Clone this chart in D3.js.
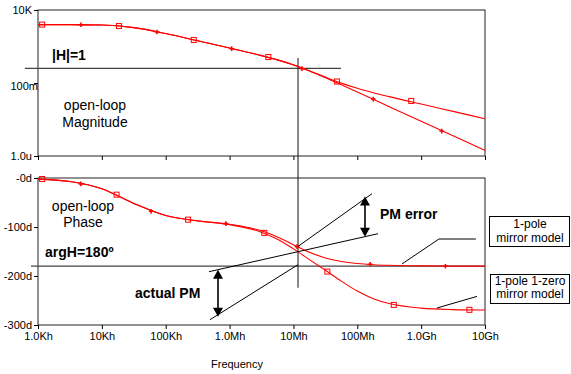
<!DOCTYPE html>
<html>
<head>
<meta charset="utf-8">
<script src="https://cdn.jsdelivr.net/npm/d3@7"></script>
<style>
  body { margin: 0; background: #fff; }
  svg { display: block; font-family: "Liberation Sans", Arial, sans-serif; }
</style>
</head>
<body>
<svg width="571" height="374"></svg>
<script>
// frequency grid (Hz)
var freqs = [1e3, 3.16e3, 1e4, 3.16e4, 1e5, 3.16e5, 1e6, 3.16e6, 5.62e6, 1e7,
             1.78e7, 3.16e7, 5.62e7, 1e8, 1.78e8, 3.16e8, 1e9, 3.16e9, 1e10];

// open-loop magnitude |H|
var magOnePole  = [1000, 993, 929, 617, 243, 78.9, 24.9, 7.52, 3.84, 1.73,
                   0.667, 0.2296, 0.0748, 0.0239, 0.00757, 0.0024, 0.00024, 2.4e-5, 2.4e-6];
var magPoleZero = [1000, 993, 929, 617, 243, 78.9, 24.9, 7.52, 3.85, 1.75,
                   0.690, 0.254, 0.098, 0.0431, 0.0216, 0.0116, 0.00361, 0.00114, 0.00036];

// open-loop phase (deg)
var phaseOnePole  = [-2.3, -7.2, -21.9, -51.9, -76.6, -87.4, -94.5, -107.8, -120.2, -136.1,
                     -151.6, -163.1, -170.3, -174.5, -176.9, -178.2, -179.4, -179.8, -179.9];
var phasePoleZero = [-2.3, -7.2, -21.9, -51.9, -76.6, -87.6, -95.4, -110.5, -125.0, -144.6,
                     -166.5, -188.4, -210.4, -230.8, -246.3, -256.3, -265.6, -268.6, -269.5];

// trace markers [freq, value]
var magMarksPlus   = [[4.7e3, 977], [7.3e4, 309], [1.08e6, 22.4], [1.36e7, 0.955], [1.78e8, 0.0079], [2.1e9, 5.1e-5]];
var magMarksSquare = [[1.16e3, 1000], [1.85e4, 794], [2.75e5, 89], [4.05e6, 6.0], [4.8e7, 0.126], [7e8, 0.0059]];
var phMarksPlus    = [[4.7e3, -12], [5.9e4, -68], [8.76e5, -93], [1.14e7, -140], [1.59e8, -176], [2.4e9, -180]];
var phMarksSquare  = [[1.16e3, -2], [1.7e4, -34], [2.24e5, -85], [3.5e6, -112], [3.4e7, -191], [3.73e8, -259], [5.7e9, -269]];

// axes
var freqTicks = [1e3, 1e4, 1e5, 1e6, 1e7, 1e8, 1e9, 1e10];
var freqLabels = ["1.0Kh", "10Kh", "100Kh", "1.0Mh", "10Mh", "100Mh", "1.0Gh", "10Gh"];
var magTicks = [1e4, 1e-1, 1e-6];
var magLabels = ["10K", "100m", "1.0u"];
var phTicks = [0, -100, -200, -300];
var phLabels = ["-0d", "-100d", "-200d", "-300d"];

// annotations (freq, value)
var fCross = 1.18e7;
var unityLine = [[625, 1], [5.56e7, 1]];
var argLine = [[776, -180], [1e10, -180]];
var tangentA = [[4.76e5, -191.2], [2.11e8, -113.7]];
var tangentB = [[4.93e5, -289.2], [fCross, -176.9]];
var tangentC = [[fCross, -139.6], [1.7e8, -32.0]];
var arrowPM = [6.59e5, -187, -283];
var arrowErr = [1.32e8, -38, -120];
var pointer1 = [[5.01e8, -175.5], [1.9e9, -124.5], [7.2e9, -124.5]];
var pointer2 = [[1.77e9, -265.3], [7.5e9, -241.6]];

var svg = d3.select("svg");

var x = d3.scaleLog().domain([1e3, 1e10]).range([38, 485]);
var yMag = d3.scaleLog().domain([1e-6, 1e4]).range([156, 10]);
var yPh = d3.scaleLinear().domain([-300, 0]).range([325, 178]);

var red = "#ff0000";

function frame(y) {
  var r = y.range();
  svg.append("rect")
    .attr("x", x.range()[0]).attr("y", r[1])
    .attr("width", x.range()[1] - x.range()[0])
    .attr("height", r[0] - r[1])
    .attr("fill", "none").attr("stroke", "#222").attr("stroke-width", 1);
}
frame(yMag);
frame(yPh);

// x axes
function xAxis(y, labels) {
  var g = svg.append("g")
    .attr("transform", "translate(0," + y.range()[0] + ")")
    .call(d3.axisBottom(x).tickValues(freqTicks).tickSize(4).tickPadding(3)
      .tickFormat(function(d, i) { return labels ? freqLabels[i] : ""; }));
  g.select(".domain").remove();
  g.selectAll("text").attr("font-size", 11).attr("font-family", null).attr("fill", "#000");
  return g;
}
xAxis(yMag, false);
xAxis(yPh, true);

// y axes
var gm = svg.append("g")
  .attr("transform", "translate(38,0)")
  .call(d3.axisLeft(yMag).tickValues(magTicks).tickSize(4).tickPadding(2)
    .tickFormat(function(d, i) { return magLabels[i]; }));
gm.select(".domain").remove();
gm.selectAll("text").attr("font-size", 11).attr("font-family", null);
gm.selectAll(".tick text").filter(function(d) { return d === 0.1; })
  .attr("x", 0).attr("dy", "0.6em");

var gp = svg.append("g")
  .attr("transform", "translate(38,0)")
  .call(d3.axisLeft(yPh).tickValues(phTicks).tickSize(4).tickPadding(2)
    .tickFormat(function(d, i) { return phLabels[i]; }));
gp.select(".domain").remove();
gp.selectAll("text").attr("font-size", 11).attr("font-family", null);

// reference lines
svg.append("line")
  .attr("x1", x(unityLine[0][0])).attr("x2", x(unityLine[1][0]))
  .attr("y1", yMag(1)).attr("y2", yMag(1))
  .attr("stroke", "#444").attr("stroke-width", 1.3);
svg.append("line")
  .attr("x1", x(argLine[0][0])).attr("x2", x(argLine[1][0]))
  .attr("y1", yPh(-180)).attr("y2", yPh(-180))
  .attr("stroke", "#444").attr("stroke-width", 1.3);
svg.append("line")
  .attr("x1", x(fCross)).attr("x2", x(fCross))
  .attr("y1", yMag(5.2)).attr("y2", yPh(-224))
  .attr("stroke", "#111").attr("stroke-width", 1);

// traces
function trace(y, vals) {
  var line = d3.line()
    .x(function(d) { return x(d[0]); })
    .y(function(d) { return y(d[1]); })
    .curve(d3.curveMonotoneX);
  svg.append("path")
    .datum(freqs.map(function(f, i) { return [f, vals[i]]; }))
    .attr("d", line)
    .attr("fill", "none").attr("stroke", red).attr("stroke-width", 1.1);
}
trace(yMag, magOnePole);
trace(yMag, magPoleZero);
trace(yPh, phaseOnePole);
trace(yPh, phasePoleZero);

function squares(y, data) {
  svg.append("g").selectAll("rect").data(data).enter().append("rect")
    .attr("x", function(d) { return x(d[0]) - 2.5; })
    .attr("y", function(d) { return y(d[1]) - 2.5; })
    .attr("width", 5).attr("height", 5)
    .attr("fill", "none").attr("stroke", red).attr("stroke-width", 1);
}
function pluses(y, data) {
  svg.append("g").selectAll("path").data(data).enter().append("path")
    .attr("transform", function(d) { return "translate(" + x(d[0]) + "," + y(d[1]) + ")"; })
    .attr("d", d3.symbol().type(d3.symbolCross).size(12))
    .attr("fill", red);
}
squares(yMag, magMarksSquare);
pluses(yMag, magMarksPlus);
squares(yPh, phMarksSquare);
pluses(yPh, phMarksPlus);

// tangent / pointer lines
var segLine = d3.line()
  .x(function(d) { return x(d[0]); })
  .y(function(d) { return yPh(d[1]); });
[tangentA, tangentB, tangentC, pointer1, pointer2].forEach(function(seg) {
  svg.append("path").attr("d", segLine(seg))
    .attr("fill", "none").attr("stroke", "#000").attr("stroke-width", 1);
});

// double arrows
function dblArrow(a) {
  var ax = x(a[0]), y1 = yPh(a[1]), y2 = yPh(a[2]);
  svg.append("line").attr("x1", ax).attr("x2", ax)
    .attr("y1", y1 + 6).attr("y2", y2 - 6)
    .attr("stroke", "#000").attr("stroke-width", 1.6);
  svg.append("path")
    .attr("d", "M" + ax + "," + y1 + "L" + (ax - 5) + "," + (y1 + 9) + "L" + (ax + 5) + "," + (y1 + 9) + "Z")
    .attr("fill", "#000");
  svg.append("path")
    .attr("d", "M" + ax + "," + y2 + "L" + (ax - 5) + "," + (y2 - 9) + "L" + (ax + 5) + "," + (y2 - 9) + "Z")
    .attr("fill", "#000");
}
dblArrow(arrowPM);
dblArrow(arrowErr);

// texts
function txt(s, tx, ty, opts) {
  opts = opts || {};
  svg.append("text")
    .attr("x", tx).attr("y", ty)
    .attr("font-size", opts.size || 14)
    .attr("font-weight", opts.bold ? "bold" : null)
    .attr("text-anchor", opts.anchor || "start")
    .attr("fill", "#000")
    .text(s);
}
txt("|H|=1", 52, 60, {bold: true});
txt("open-loop", 95, 110, {anchor: "middle"});
txt("Magnitude", 95, 127, {anchor: "middle"});
txt("open-loop", 83, 211, {anchor: "middle"});
txt("Phase", 83, 227, {anchor: "middle"});
txt("argH=180º", 45, 257, {bold: true});
txt("actual PM", 135, 298, {bold: true});
txt("PM error", 380, 219, {bold: true});
txt("Frequency", 237, 368, {size: 11, anchor: "middle"});

// legend boxes
svg.append("rect").attr("x", 489.5).attr("y", 216.5).attr("width", 80).attr("height", 30)
  .attr("fill", "#fff").attr("stroke", "#000");
txt("1-pole", 530, 227.5, {size: 12, anchor: "middle"});
txt("mirror model", 530, 241.5, {size: 12, anchor: "middle"});
svg.append("rect").attr("x", 490.5).attr("y", 274.5).attr("width", 79).attr("height", 29)
  .attr("fill", "#fff").attr("stroke", "#000");
txt("1-pole 1-zero", 530, 284.5, {size: 12, anchor: "middle"});
txt("mirror model", 530, 297.5, {size: 12, anchor: "middle"});
</script>
</body>
</html>
